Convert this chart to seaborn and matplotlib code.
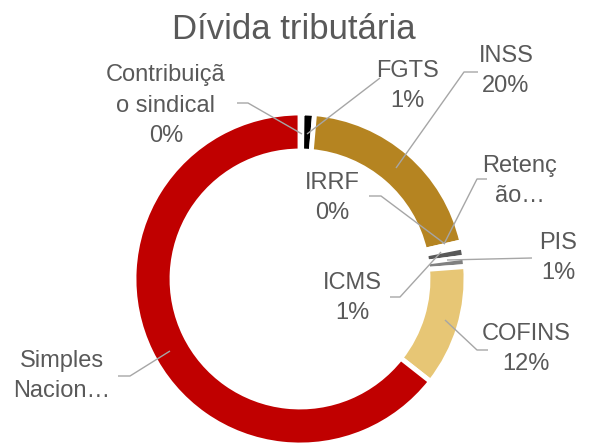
import matplotlib
matplotlib.use("Agg")
import matplotlib.pyplot as plt
import seaborn as sns

sns.set_theme(style="white")
plt.rcParams["font.family"] = ["Liberation Sans", "DejaVu Sans"]

categories = ["Contribuição sindical", "FGTS", "INSS", "IRRF", "Retenção",
              "ICMS", "PIS", "COFINS", "Simples Nacional"]
values = [0.2, 1.2, 20.0, 0.2, 0.3, 1.0, 0.9, 11.8, 64.4]
colors = ["#7F7F7F", "#000000", "#B58421", "#A5A5A5", "#3F3F3F",
          "#595959", "#808080", "#E7C675", "#C00000"]
label_texts = ["Contribuiçã\no sindical", "FGTS", "INSS", "IRRF", "Retenç\não…",
               "ICMS", "PIS", "COFINS", "Simples\nNacion…"]
show_pct = [True, True, True, True, False, True, True, True, False]

W, H = 589, 444
fig = plt.figure(figsize=(W / 100, H / 100), dpi=100)
ax = fig.add_axes([0, 0, 1, 1])

def Y(y):
    return H - y

total = sum(values)
ax.pie(values, colors=colors, startangle=90, counterclock=False,
       center=(300, Y(279)), radius=166,
       wedgeprops=dict(width=38, edgecolor="white", linewidth=3.5))
ax.set_xlim(0, W)
ax.set_ylim(0, H)
ax.set_aspect("equal")
ax.axis("off")

ax.text(294, Y(30), "Dívida tributária", ha="center", va="center",
        fontsize=25, color="#595959")

# label layout: (text center x, text center y), leader polyline
layout = {
    "Contribuição sindical": ((166, 106), [(237, 103), (248, 103), (302, 134)]),
    "FGTS": ((407, 86), [(380, 78), (307, 134)]),
    "INSS": ((506, 71), [(478, 72), (464, 72), (396, 168)]),
    "IRRF": ((332, 198), [(369, 196), (381, 196), (445, 244)]),
    "Retenção": ((520, 181), [(487, 179), (477, 179), (444, 244)]),
    "ICMS": ((352, 298), [(390, 297), (400, 297), (441, 252)]),
    "PIS": ((558, 258), [(532, 258), (447, 260)]),
    "COFINS": ((526, 349), [(488, 350), (477, 350), (445, 320)]),
    "Simples Nacional": ((62, 376), [(118, 376), (130, 376), (170, 351)]),
}

for cat, val, txt, sp in zip(categories, values, label_texts, show_pct):
    (tx, ty), pts = layout[cat]
    full = txt + (f"\n{round(val / total * 100):.0f}%" if sp else "")
    ax.text(tx, Y(ty), full, ha="center", va="center", fontsize=17,
            color="#595959", linespacing=1.5)
    xs = [p[0] for p in pts]
    ys = [Y(p[1]) for p in pts]
    ax.plot(xs, ys, color="#A6A6A6", lw=1.0, solid_capstyle="butt")

fig.savefig("out.png", dpi=100)
